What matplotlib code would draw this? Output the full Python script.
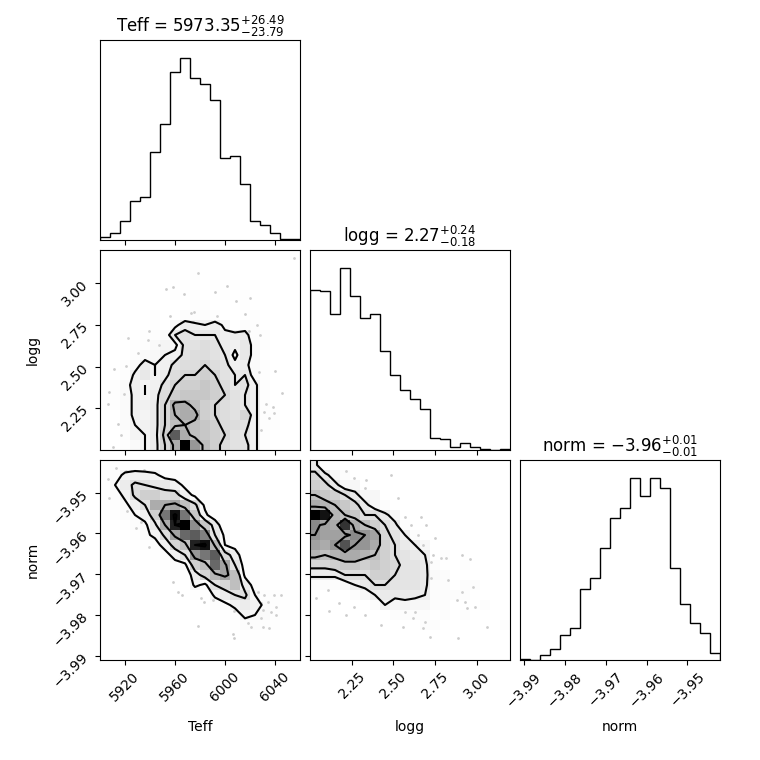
import numpy as np
import matplotlib
matplotlib.use("Agg")
import matplotlib.pyplot as plt
from matplotlib.colors import LinearSegmentedColormap
from matplotlib.ticker import MaxNLocator, NullLocator

labels = ["Teff", "logg", "norm"]
ranges = [(5900.0, 6060.0), (2.0, 3.2), (-3.991, -3.942)]
medians = [5973.35, 2.27, -3.96]
err_lo = [23.79, 0.18, 0.01]
err_hi = [26.49, 0.24, 0.01]

# 1d histogram counts, 20 bins each
teff_counts = [2, 5, 14, 29, 32, 66, 87, 126, 136, 121, 117, 105, 61, 63, 42, 14, 11, 5, 1, 1]
logg_counts = [120, 119, 102, 136, 115, 99, 102, 74, 56, 45, 38, 31, 9, 8, 2, 5, 2, 1, 0, 1]
norm_counts = [1, 0, 4, 8, 19, 24, 53, 61, 84, 106, 114, 136, 123, 136, 129, 69, 42, 28, 20, 5]

# 2d counts, rows listed top (high y) to bottom, 20 x-bins per row
grid_logg_teff = [
    [0, 0, 0, 0, 0, 0, 0, 0, 0, 0, 0, 0, 0, 0, 0, 0, 0, 0, 0, 2],
    [0, 0, 0, 0, 0, 0, 0, 0, 0, 2, 0, 0, 0, 0, 0, 0, 0, 0, 0, 0],
    [0, 0, 0, 0, 0, 0, 0, 2, 0, 2, 0, 0, 2, 0, 0, 0, 0, 0, 0, 0],
    [0, 0, 0, 0, 0, 0, 0, 0, 2, 0, 0, 2, 0, 2, 0, 2, 0, 0, 0, 0],
    [0, 0, 0, 0, 0, 0, 0, 2, 0, 2, 0, 0, 2, 0, 2, 0, 0, 0, 0, 0],
    [0, 0, 0, 0, 0, 0, 0, 0, 0, 2, 2, 0, 0, 0, 2, 0, 0, 0, 0, 0],
    [0, 0, 0, 0, 0, 2, 0, 0, 3, 2, 3, 2, 0, 0, 0, 2, 0, 0, 0, 0],
    [0, 0, 0, 0, 0, 2, 0, 5, 8, 7, 6, 8, 5, 0, 3, 2, 0, 0, 0, 0],
    [0, 0, 2, 0, 2, 2, 4, 9, 10, 9, 9, 9, 7, 8, 8, 2, 2, 0, 0, 0],
    [0, 0, 0, 2, 2, 4, 6, 5, 10, 10, 11, 10, 8, 7, 9, 4, 2, 0, 0, 0],
    [0, 0, 0, 2, 4, 5, 6, 7, 10, 11, 11, 10, 9, 5, 9, 4, 0, 0, 0, 0],
    [0, 0, 2, 4, 8, 6, 7, 10, 11, 11, 12, 11, 10, 7, 7, 4, 2, 0, 0, 0],
    [0, 0, 2, 7, 9, 6, 8, 11, 12, 12, 13, 12, 10, 9, 9, 4, 2, 0, 0, 0],
    [0, 2, 4, 8, 6, 7, 10, 12, 13, 13, 14, 13, 11, 9, 10, 7, 2, 0, 0, 0],
    [0, 2, 4, 7, 6, 8, 11, 13, 14, 14, 14, 13, 12, 10, 9, 7, 2, 0, 0, 0],
    [0, 2, 4, 7, 7, 8, 12, 17, 17, 15, 13, 12, 11, 10, 9, 7, 2, 0, 0, 0],
    [0, 0, 4, 7, 6, 8, 12, 16, 17, 17, 13, 12, 11, 10, 12, 7, 2, 2, 0, 0],
    [0, 0, 4, 6, 7, 8, 12, 15, 16, 15, 14, 13, 11, 11, 10, 7, 2, 2, 0, 0],
    [0, 0, 2, 6, 6, 8, 13, 24, 17, 15, 14, 13, 12, 10, 9, 7, 2, 0, 0, 0],
    [0, 0, 2, 4, 6, 8, 12, 17, 30, 19, 15, 13, 11, 10, 10, 7, 2, 0, 0, 0],
]

grid_norm_teff = [
    [1, 2, 2, 2, 1, 1, 0, 0, 0, 0, 0, 0, 0, 0, 0, 0, 0, 0, 0, 0],
    [2, 3, 6, 7, 7, 6, 3, 3, 1, 0, 0, 0, 0, 0, 0, 0, 0, 0, 0, 0],
    [2, 5, 8, 11, 10, 9, 9, 7, 4, 0, 0, 0, 0, 0, 0, 0, 0, 0, 0, 0],
    [1, 3, 6, 11, 13, 13, 11, 12, 7, 4, 0, 0, 0, 0, 0, 0, 0, 0, 0, 0],
    [0, 2, 4, 7, 10, 17, 17, 18, 15, 11, 4, 0, 0, 0, 0, 0, 0, 0, 0, 0],
    [0, 1, 3, 5, 7, 13, 22, 29, 22, 14, 6, 2, 0, 0, 0, 0, 0, 0, 0, 0],
    [0, 0, 1, 3, 4, 9, 17, 28, 30, 20, 14, 8, 1, 0, 0, 0, 0, 0, 0, 0],
    [0, 0, 0, 1, 4, 6, 11, 18, 23, 24, 21, 10, 4, 0, 0, 0, 0, 0, 0, 0],
    [0, 0, 0, 0, 1, 3, 7, 12, 15, 28, 29, 16, 5, 3, 0, 0, 0, 0, 0, 0],
    [0, 0, 0, 0, 0, 1, 3, 7, 10, 19, 22, 24, 12, 8, 1, 0, 0, 0, 0, 0],
    [0, 0, 0, 0, 0, 0, 1, 3, 4, 13, 15, 23, 18, 10, 3, 0, 0, 0, 0, 0],
    [0, 0, 0, 0, 0, 0, 0, 1, 1, 8, 12, 16, 18, 15, 4, 1, 0, 0, 0, 0],
    [0, 0, 0, 0, 0, 0, 0, 0, 0, 6, 4, 10, 12, 15, 8, 3, 1, 0, 0, 0],
    [0, 0, 0, 0, 0, 0, 0, 0, 0, 1, 1, 6, 8, 10, 11, 5, 2, 2, 1, 1],
    [0, 0, 0, 0, 0, 0, 0, 0, 0, 0, 0, 2, 4, 6, 8, 7, 4, 2, 1, 0],
    [0, 0, 0, 0, 0, 0, 0, 0, 0, 0, 0, 0, 1, 3, 6, 5, 4, 2, 1, 0],
    [0, 0, 0, 0, 0, 0, 0, 0, 0, 0, 0, 0, 0, 1, 3, 3, 2, 1, 0, 0],
    [0, 0, 0, 0, 0, 0, 0, 0, 0, 0, 0, 0, 0, 0, 1, 1, 1, 0, 0, 0],
    [0, 0, 0, 0, 0, 0, 0, 0, 0, 0, 0, 0, 0, 0, 0, 0, 0, 0, 0, 0],
    [0, 0, 0, 0, 0, 0, 0, 0, 0, 0, 0, 0, 0, 0, 0, 0, 0, 0, 0, 0],
]

grid_norm_logg = [
    [8, 3, 0, 0, 0, 0, 0, 0, 0, 0, 0, 0, 0, 0, 0, 0, 0, 0, 0, 0],
    [11, 8, 5, 3, 0, 0, 0, 0, 0, 0, 0, 0, 0, 0, 0, 0, 0, 0, 0, 0],
    [12, 11, 8, 5, 5, 0, 0, 0, 0, 0, 0, 0, 0, 0, 0, 0, 0, 0, 0, 0],
    [14, 13, 12, 10, 8, 5, 5, 0, 0, 0, 0, 0, 0, 0, 0, 0, 0, 0, 0, 0],
    [16, 15, 14, 13, 11, 8, 5, 3, 0, 0, 0, 0, 0, 0, 0, 0, 0, 0, 0, 0],
    [28, 27, 15, 14, 13, 10, 10, 8, 5, 0, 0, 0, 0, 0, 0, 0, 0, 0, 0, 0],
    [19, 17, 16, 25, 16, 14, 12, 10, 8, 3, 0, 0, 0, 0, 0, 0, 0, 0, 0, 0],
    [18, 17, 17, 17, 19, 18, 17, 11, 9, 7, 3, 0, 0, 0, 0, 0, 0, 0, 0, 0],
    [17, 16, 18, 23, 18, 18, 16, 12, 10, 8, 7, 5, 0, 0, 0, 0, 0, 0, 0, 0],
    [15, 14, 15, 16, 16, 15, 14, 12, 10, 9, 8, 7, 0, 3, 0, 0, 0, 0, 0, 0],
    [11, 11, 12, 13, 13, 12, 13, 12, 11, 9, 9, 8, 3, 0, 0, 3, 0, 0, 0, 0],
    [8, 8, 8, 10, 10, 10, 12, 12, 10, 9, 9, 8, 4, 3, 0, 0, 0, 0, 0, 0],
    [3, 3, 3, 5, 7, 8, 10, 10, 9, 9, 9, 8, 3, 3, 0, 3, 3, 0, 0, 0],
    [0, 0, 0, 0, 3, 5, 7, 8, 8, 8, 8, 7, 3, 3, 3, 3, 0, 0, 0, 0],
    [0, 0, 0, 0, 0, 0, 3, 7, 5, 6, 5, 5, 3, 3, 0, 0, 0, 3, 0, 0],
    [0, 0, 0, 0, 0, 0, 0, 0, 3, 3, 3, 3, 0, 3, 0, 3, 0, 0, 0, 0],
    [0, 0, 0, 0, 0, 0, 0, 0, 0, 0, 0, 3, 3, 0, 0, 0, 0, 0, 0, 3],
    [0, 0, 0, 0, 0, 0, 0, 0, 0, 0, 0, 0, 0, 0, 0, 0, 0, 0, 0, 0],
    [0, 0, 0, 0, 0, 0, 0, 0, 0, 0, 0, 0, 0, 0, 0, 0, 0, 0, 0, 0],
    [0, 0, 0, 0, 0, 0, 0, 0, 0, 0, 0, 0, 0, 0, 0, 0, 0, 0, 0, 0],
]

# stray samples outside the outer contour
pts_a_teff = [5978.1, 5958.7, 5952.8, 5967.5, 6001.3, 5992.3, 6008.8, 6020.3, 5972.8, 5975.5,
              5955.7, 5974.7, 5993.3, 6015.7, 6025.3, 5939.5, 5922.1, 5938.1, 5947.5, 5930.1,
              6019.5, 6028.0, 5911.5, 5920.8, 5936.8, 6027.0, 6039.7, 6045.3, 5906.1, 5914.1,
              5916.8, 5910.1, 6032.8, 6038.1, 6031.5, 6035.5, 6024.8, 6028.8, 6039.5, 5918.9,
              5907.5, 6055.5]
pts_a_logg = [3.06, 2.976, 2.964, 2.934, 2.986, 2.946, 2.894, 2.914, 2.82, 2.83,
              2.806, 2.766, 2.804, 2.816, 2.75, 2.716, 2.672, 2.66, 2.63, 2.58,
              2.716, 2.69, 2.486, 2.502, 2.476, 2.47, 2.472, 2.342, 2.274, 2.154,
              2.09, 2.02, 2.274, 2.26, 2.226, 2.19, 2.11, 2.12, 2.22, 2.338,
              2.35, 3.15]

pts_b_teff = [5906.1, 5914.7, 5920.8, 5924.8, 5929.6, 5934.9, 5912.8, 5907.5, 5922.1, 5921.3,
              5928.8, 5932.8, 5939.5, 5958.1, 5962.1, 5965.3, 5980.8, 5983.5, 5990.1, 6007.5,
              6026.1, 6031.5, 6034.1, 6039.5, 6028.8, 6030.1, 6036.8, 6040.8, 6028.8, 6030.1,
              6035.5, 6018.1, 6020.8, 5978.1, 6006.1, 6007.5, 6044.8, 6040.8]
pts_b_norm = [-3.9466, -3.9485, -3.9448, -3.9447, -3.9448, -3.9444, -3.9440, -3.9514, -3.9526, -3.9546,
              -3.9587, -3.9571, -3.9632, -3.9718, -3.9743, -3.9751, -3.9759, -3.9767, -3.9763, -3.9790,
              -3.9743, -3.9751, -3.9767, -3.9751, -3.9771, -3.9787, -3.9792, -3.9800, -3.9808, -3.9828,
              -3.9832, -3.9820, -3.9828, -3.9826, -3.9847, -3.9857, -3.9751, -3.9779]

pts_c_logg = [2.2168, 2.2669, 2.3372, 2.4877, 2.3271, 2.5278, 2.5680, 2.6081, 2.6683, 2.6984,
              2.6482, 2.7486, 2.6282, 2.6784, 2.7386, 2.7888, 2.8189, 2.9594, 2.9092, 2.7285,
              2.7285, 2.8289, 2.9092, 2.9794, 2.8791, 2.9293, 2.9393, 2.9895, 3.0597, 2.8891,
              2.7185, 2.6784, 2.6884, 2.6282, 2.5680, 2.6182, 2.5580, 2.4275, 2.3271, 2.2168,
              2.1164, 2.1766, 2.1064, 2.0361, 2.2669]
pts_c_norm = [-3.9448, -3.9465, -3.9469, -3.9457, -3.9489, -3.9514, -3.9559, -3.9579, -3.9559, -3.9579,
              -3.9604, -3.9612, -3.9628, -3.9628, -3.9653, -3.9661, -3.9661, -3.9662, -3.9653, -3.9669,
              -3.9708, -3.9714, -3.9743, -3.9730, -3.9763, -3.9767, -3.9783, -3.9779, -3.9828, -3.9855,
              -3.9853, -3.9832, -3.9816, -3.9792, -3.9792, -3.9808, -3.9828, -3.9824, -3.9800, -3.9800,
              -3.9790, -3.9771, -3.9738, -3.9757, -3.9779]

levels = 1.0 - np.exp(-0.5 * np.arange(0.5, 2.1, 0.5) ** 2)
density_cmap = LinearSegmentedColormap.from_list("density_cmap", ["k", (1, 1, 1, 0)])
white_cmap = LinearSegmentedColormap.from_list("white_cmap", [(1, 1, 1), (1, 1, 1)], N=2)


def draw_pair(ax, grid, xr, yr, px, py):
    H = np.array(grid[::-1], dtype=float).T  # H[x, y]
    X = np.linspace(xr[0], xr[1], H.shape[0] + 1)
    Y = np.linspace(yr[0], yr[1], H.shape[1] + 1)

    # contour levels enclosing given fractions of the mass
    Hflat = np.sort(H.flatten())[::-1]
    sm = np.cumsum(Hflat)
    sm /= sm[-1]
    V = np.empty(len(levels))
    for i, v0 in enumerate(levels):
        below = Hflat[sm <= v0]
        V[i] = below[-1] if len(below) else Hflat[0]
    V.sort()
    m = np.diff(V) == 0
    while np.any(m):
        V[np.where(m)[0][0]] *= 1.0 - 1e-4
        m = np.diff(V) == 0
    V.sort()

    X1 = 0.5 * (X[1:] + X[:-1])
    Y1 = 0.5 * (Y[1:] + Y[:-1])
    H2 = H.min() + np.zeros((H.shape[0] + 4, H.shape[1] + 4))
    H2[2:-2, 2:-2] = H
    H2[2:-2, 1] = H[:, 0]
    H2[2:-2, -2] = H[:, -1]
    H2[1, 2:-2] = H[0]
    H2[-2, 2:-2] = H[-1]
    H2[1, 1] = H[0, 0]
    H2[1, -2] = H[0, -1]
    H2[-2, 1] = H[-1, 0]
    H2[-2, -2] = H[-1, -1]
    dx = X1[1] - X1[0]
    dy = Y1[1] - Y1[0]
    X2 = np.concatenate([X1[0] + np.array([-2, -1]) * dx, X1, X1[-1] + np.array([1, 2]) * dx])
    Y2 = np.concatenate([Y1[0] + np.array([-2, -1]) * dy, Y1, Y1[-1] + np.array([1, 2]) * dy])

    ax.plot(px, py, "o", color="k", ms=2.0, mec="none", alpha=0.2, zorder=-1)
    ax.contourf(X2, Y2, H2.T, [V.min(), H.max()], cmap=white_cmap, antialiased=False)
    ax.pcolor(X, Y, H.max() - H.T, cmap=density_cmap)
    ax.contour(X2, Y2, H2.T, V, colors="k")
    ax.set_xlim(xr)
    ax.set_ylim(yr)
    ax.xaxis.set_major_locator(MaxNLocator(5, prune="lower"))
    ax.yaxis.set_major_locator(MaxNLocator(5, prune="lower"))


fig, axes = plt.subplots(3, 3, figsize=(7.6, 7.6), dpi=100)
lb = 1.0 / 7.6
tr = 7.2 / 7.6
fig.subplots_adjust(left=lb, bottom=lb, right=tr, top=tr, wspace=0.05, hspace=0.05)

hists = [teff_counts, logg_counts, norm_counts]
for i in range(3):
    ax = axes[i, i]
    edges = np.linspace(ranges[i][0], ranges[i][1], len(hists[i]) + 1)
    ax.hist(edges[:-1], bins=edges, weights=hists[i], histtype="step", color="k")
    ax.set_xlim(ranges[i])
    ax.set_ylim(0, 1.1 * max(hists[i]))
    ax.yaxis.set_major_locator(NullLocator())
    ax.xaxis.set_major_locator(MaxNLocator(5, prune="lower"))
    title = "{0} = ${{{1:.2f}}}_{{-{2:.2f}}}^{{+{3:.2f}}}$".format(labels[i], medians[i], err_lo[i], err_hi[i])
    ax.set_title(title)

for ax in [axes[0, 1], axes[0, 2], axes[1, 2]]:
    ax.set_frame_on(False)
    ax.set_xticks([])
    ax.set_yticks([])

draw_pair(axes[1, 0], grid_logg_teff, ranges[0], ranges[1], pts_a_teff, pts_a_logg)
draw_pair(axes[2, 0], grid_norm_teff, ranges[0], ranges[2], pts_b_teff, pts_b_norm)
draw_pair(axes[2, 1], grid_norm_logg, ranges[1], ranges[2], pts_c_logg, pts_c_norm)

# tick labels only on the outer edges
for r in range(3):
    for c in range(r + 1):
        ax = axes[r, c]
        if r < 2:
            ax.set_xticklabels([])
        else:
            ax.tick_params(axis="x", labelrotation=45)
            ax.set_xlabel(labels[c])
            ax.xaxis.set_label_coords(0.5, -0.3)
        if c > 0 or r == 0:
            if c != r:
                ax.set_yticklabels([])
        else:
            ax.tick_params(axis="y", labelrotation=45)
            ax.set_ylabel(labels[r])
            ax.yaxis.set_label_coords(-0.3, 0.5)

fig.savefig("out.png", dpi=100)
